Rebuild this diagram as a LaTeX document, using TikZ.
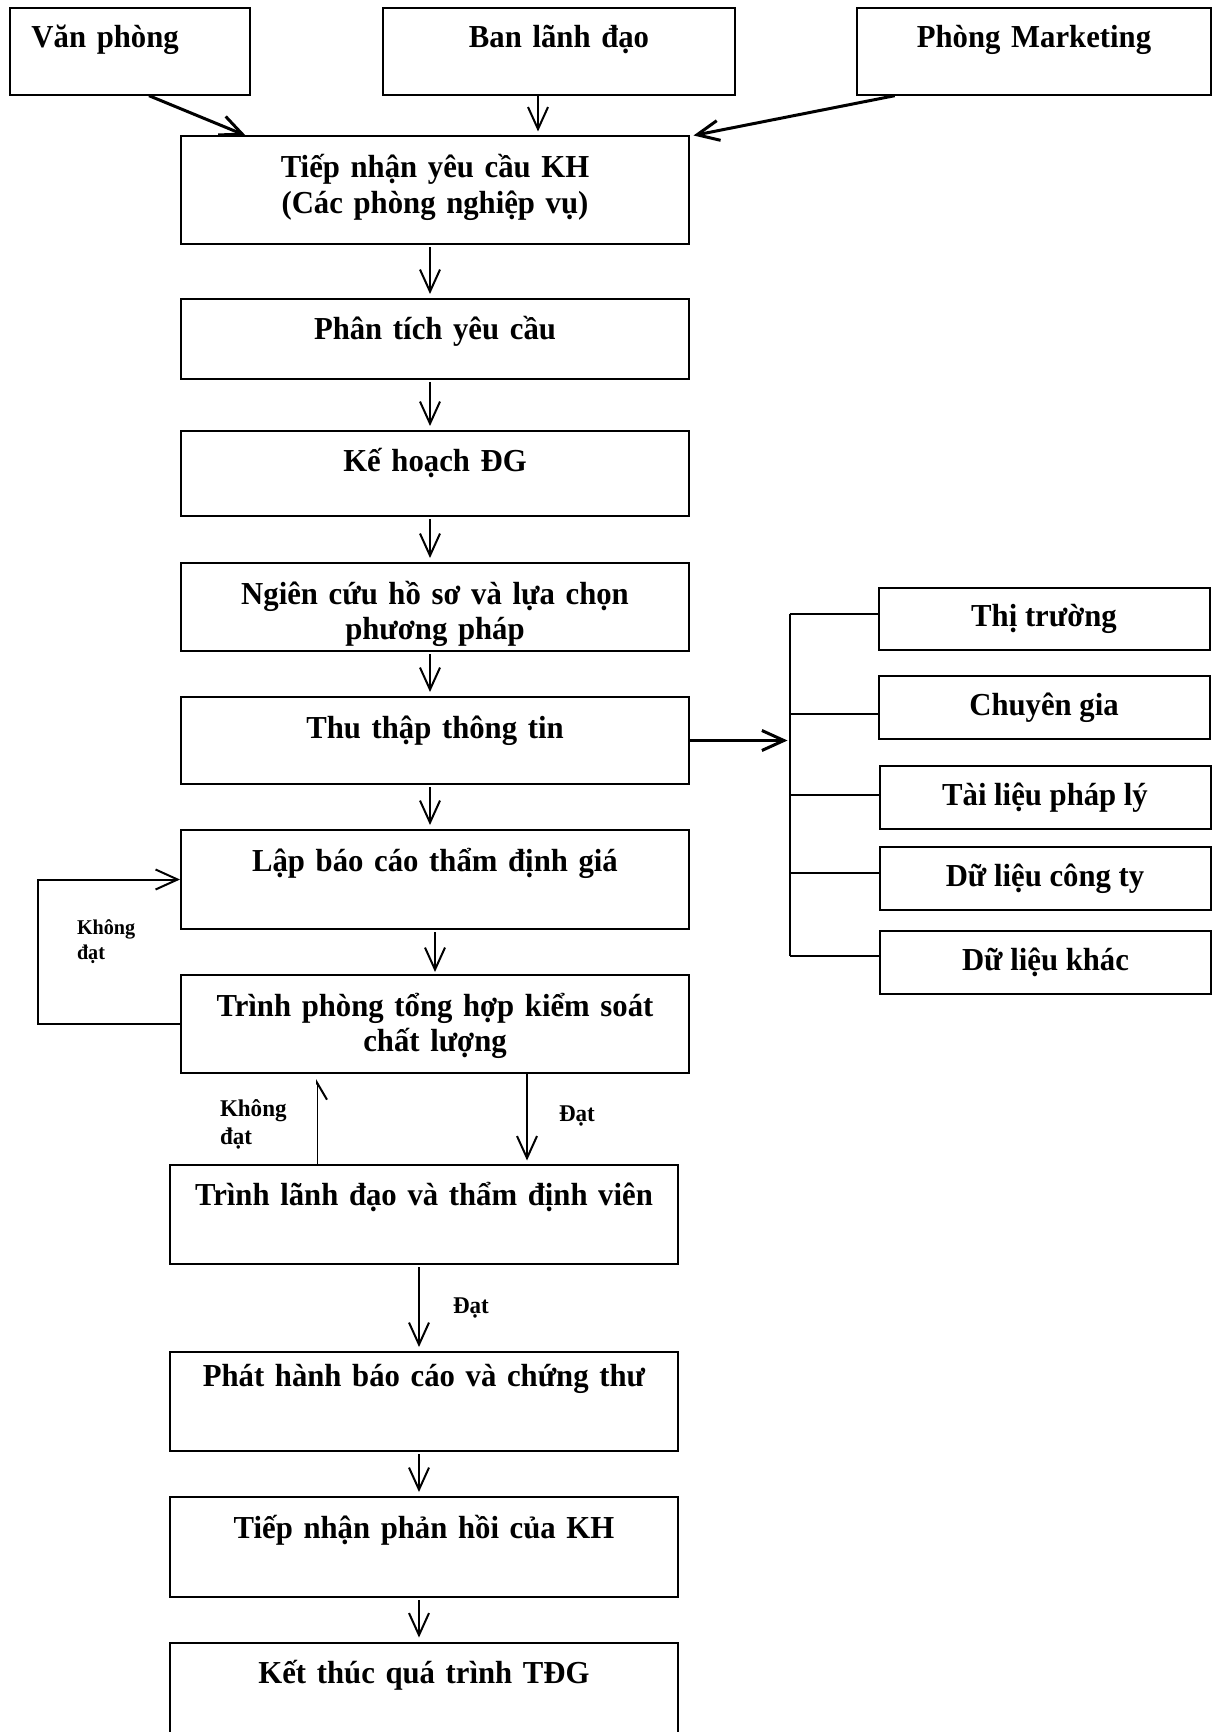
\documentclass[tikz,border=0pt]{standalone}
\usepackage{fontspec}
\setmainfont[FakeStretch=0.96]{Liberation Serif}
\usetikzlibrary{arrows.meta}

\begin{document}
\begin{tikzpicture}[x=0.5pt,y=-0.5pt,line width=1pt,
  >={Straight Barb[length=11pt,width=10pt]},
  stepbox/.style={draw,anchor=north,text width=250pt,inner xsep=2pt,inner ysep=0pt,align=center,
    font=\fontsize{16}{17.8}\selectfont\bfseries,text height=20.5pt,text depth=#1},
  deptbox/.style={stepbox=23.5pt,text height=20pt,text width=#1},
  srcbox/.style={draw,minimum width=165.5pt,minimum height=31.3pt,inner sep=0pt,
    font=\fontsize{16}{17.8}\selectfont\bfseries},
  flowlabel/.style={anchor=north west,align=left,inner sep=0pt,font=\fontsize{12}{13.8}\selectfont\bfseries}]
\useasboundingbox (0,0) rectangle (1216,1732);
\node[deptbox=116pt,align=left] (vanphong) at (129.5,6.7) {\hspace*{9pt}Văn phòng};
\node[deptbox=172pt] (banlanhdao) at (559,6.7) {Ban lãnh đạo};
\node[deptbox=173pt] (marketing) at (1034,6.7) {Phòng Marketing};
\node[stepbox=33.5pt] (tiepnhan) at (435,135.5) {Tiếp nhận yêu cầu KH\\(Các phòng nghiệp vụ)};
\node[stepbox=19.5pt] (phantich) at (435,298) {Phân tích yêu cầu};
\node[stepbox=22pt] (kehoach) at (435,430) {Kế hoạch ĐG};
\node[stepbox=23.5pt] (nghiencuu) at (435,562) {Ngiên cứu hồ sơ và lựa chọn\\phương pháp};
\node[stepbox=23pt] (thuthap) at (435,696) {Thu thập thông tin};
\node[stepbox=29pt] (lapbaocao) at (435,829) {Lập báo cáo thẩm định giá};
\node[stepbox=28.5pt] (trinhphong) at (435,974) {Trình phòng tổng hợp kiểm soát\\chất lượng};
\node[stepbox=29.25pt] (trinhlanhdao) at (424,1163.5) {Trình lãnh đạo và thẩm định viên};
\node[stepbox=32.5pt,text height=17pt] (phathanh) at (424,1351) {Phát hành báo cáo và chứng thư};
\node[stepbox=29.5pt] (phanhoi) at (424,1496) {Tiếp nhận phản hồi của KH};
\node[stepbox=31pt] (ketthuc) at (424,1641.5) {Kết thúc quá trình TĐG};
\node[srcbox] (thitruong) at (1044,619) {Thị trường};
\node[srcbox] (chuyengia) at (1044,707.5) {Chuyên gia};
\node[srcbox] (tailieu) at (1045,797.4) {Tài liệu pháp lý};
\node[srcbox] (dulieucongty) at (1045,878.5) {Dữ liệu công ty};
\node[srcbox] (dulieukhac) at (1045.5,962.5) {Dữ liệu khác};
\node[flowlabel,font=\fontsize{10.5}{12.5}\selectfont\bfseries] (khongdatA) at (76,919) {Không\\đạt};
\node[flowlabel] (khongdatB) at (219,1099) {Không\\đạt};
\node[flowlabel] (datA) at (558,1105) {Đạt};
\node[flowlabel] (datB) at (452,1297) {Đạt};
\draw[->,line width=1.5pt] ([xshift=9.75pt]vanphong.south) -- ([xshift=32.8pt]tiepnhan.north west);
\draw[->] ([xshift=-10.5pt]banlanhdao.south) -- ([xshift=51.5pt,yshift=2pt]tiepnhan.north);
\draw[->,line width=1.5pt] ([xshift=19.35pt]marketing.south west) -- ([xshift=1.75pt]tiepnhan.north east);
\foreach \a/\b in {tiepnhan/phantich,phantich/kehoach,kehoach/nghiencuu,nghiencuu/thuthap,thuthap/lapbaocao,
  trinhlanhdao/phathanh,phathanh/phanhoi,phanhoi/ketthuc}
  \draw[->,shorten <=1pt,shorten >=2pt] ([xshift=-2.5pt]\a.south) -- ([xshift=-2.5pt]\b.north);
\draw[->,shorten <=1pt,shorten >=1pt] (lapbaocao) -- (trinhphong);
\draw[->] (trinhphong.west) -- ++(-142,0) |- (lapbaocao.west);
\coordinate (datpt) at ([xshift=173.5pt]trinhphong.south west);
\draw[->,shorten >=1.5pt] (datpt) -- (datpt |- trinhlanhdao.north);
\coordinate (khongpt) at ([xshift=74pt]trinhlanhdao.north west);
\draw[line width=0.4pt,-{Straight Barb[harpoon,swap,length=8.5pt,width=10pt,line width=1pt]},shorten >=2.5pt]
  (khongpt) -- (khongpt |- trinhphong.south);
\coordinate (br) at ([xshift=-44pt]thitruong.west);
\foreach \s/\d in {thitruong/2.35pt,chuyengia/-3.25pt,tailieu/1.2pt,dulieucongty/2.9pt,dulieukhac/3.4pt}{
  \coordinate (t\s) at ([yshift=\d]\s.west);
  \draw (br |- t\s) -- (t\s);
}
\draw (br |- tthitruong) -- (br |- tdulieukhac);
\draw[->,line width=1.5pt,shorten >=1pt] (thuthap.east) -- (br |- thuthap.east);
\end{tikzpicture}
\end{document}
